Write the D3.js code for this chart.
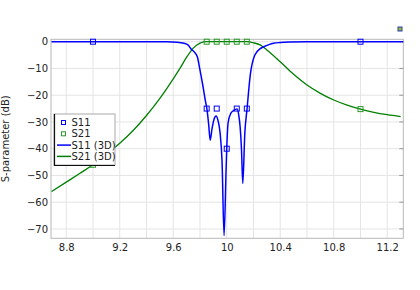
<!DOCTYPE html>
<html lang="en">
<head>
<meta charset="UTF-8" />
<title>S-parameters</title>
<script src="https://d3js.org/d3.v7.min.js"></script>
<style>
    body { margin: 0; background: #fff; }
    text { font-family: "DejaVu Sans", sans-serif; fill: #222; }
</style>
</head>
<body>
<svg width="420" height="290"></svg>
<script>
    // frequency (GHz) and dB values
    const s11Freq = [8.69, 9.0, 9.3, 9.55, 9.63, 9.68, 9.71, 9.735, 9.76, 9.78, 9.8, 9.82, 9.84, 9.852, 9.865, 9.876, 9.89, 9.905, 9.92, 9.935, 9.95, 9.965, 9.98, 9.995, 10.0, 10.01, 10.03, 10.05, 10.077, 10.09, 10.1, 10.11, 10.12, 10.135, 10.152, 10.176, 10.21, 10.25, 10.277, 10.32, 10.35, 10.4, 10.48, 10.6, 11.32];
    const s11dB = [0, 0, 0, -0.05, -0.2, -0.6, -1.2, -2.8, -4, -5.6, -10.6, -16, -22, -25.2, -31, -36.8, -32.5, -29, -27.8, -29.5, -34, -45, -72.5, -48, -40, -30.4, -26.8, -25.8, -25.2, -27.5, -31.8, -40, -53, -34.3, -25, -12.4, -5, -2.6, -1.9, -1, -0.6, -0.3, -0.1, 0, 0];

    const s21Freq = [8.69, 8.8, 8.9, 9.0, 9.1, 9.2, 9.3, 9.4, 9.5, 9.6, 9.65, 9.7, 9.75, 9.8, 9.85, 10.15, 10.2, 10.25, 10.3, 10.4, 10.5, 10.6, 10.7, 10.8, 10.9, 11.0, 11.1, 11.2, 11.3];
    const s21dB = [-56, -52.5, -49.3, -46, -42.2, -38, -33.2, -27.6, -21.2, -13.9, -10, -5.8, -2.4, -0.5, 0, 0, -0.4, -1.2, -3.1, -7.5, -12.2, -16.2, -19.3, -21.8, -23.7, -25.2, -26.4, -27.3, -28];

    // discrete markers
    const markFreq = [9.0, 9.85, 9.925, 10.0, 10.075, 10.15, 11.0];
    const markS11 = [0, -25, -25, -40, -25, -25, 0];
    const markS21 = [-46, 0, 0, 0, 0, 0, -25.2];

    const xGrid = d3.range(8.8, 11.21, 0.2);
    const xTickLabels = [8.8, 9.2, 9.6, 10, 10.4, 10.8, 11.2];
    const yTicks = [0, -10, -20, -30, -40, -50, -60, -70];

    const legendNames = ["S11", "S21", "S11 (3D)", "S21 (3D)"];

    const blue = "#0000ff";
    const green = "#008000";

    const pLeft = 51, pRight = 403.3, pTop = 39.3, pBottom = 238.3;

    const x = d3.scaleLinear().domain([8.686, 11.32]).range([pLeft, pRight]);
    const y = d3.scaleLinear().domain([0.9, -73.5]).range([pTop, pBottom]);

    const svg = d3.select("svg");

    // grid
    svg.append("g")
        .selectAll("line")
        .data(xGrid)
        .enter()
        .append("line")
        .attr("x1", d => x(d)).attr("x2", d => x(d))
        .attr("y1", pTop).attr("y2", pBottom)
        .attr("stroke", "#e4e4e4").attr("stroke-width", 1);

    svg.append("g")
        .selectAll("line")
        .data(yTicks)
        .enter()
        .append("line")
        .attr("x1", pLeft).attr("x2", pRight)
        .attr("y1", d => y(d)).attr("y2", d => y(d))
        .attr("stroke", "#e4e4e4").attr("stroke-width", 1);

    // frame
    svg.append("rect")
        .attr("x", pLeft).attr("y", pTop)
        .attr("width", pRight - pLeft).attr("height", pBottom - pTop)
        .attr("fill", "none").attr("stroke", "#b8b8b8").attr("stroke-width", 1);

    // axes
    const xAxis = d3.axisBottom(x).tickValues(xTickLabels).tickSize(0).tickPadding(6)
        .tickFormat(d3.format("~g"));
    svg.append("g")
        .attr("transform", `translate(0,${pBottom})`)
        .call(xAxis)
        .call(g => g.select(".domain").remove())
        .selectAll("text").attr("font-size", "10px").attr("fill", "#222");

    const yAxis = d3.axisLeft(y).tickValues(yTicks).tickSize(0).tickPadding(3);
    svg.append("g")
        .attr("transform", `translate(${pLeft},0)`)
        .call(yAxis)
        .call(g => g.select(".domain").remove())
        .selectAll("text").attr("font-size", "10px").attr("fill", "#222");

    // small inward ticks on the right edge
    svg.append("g")
        .selectAll("line")
        .data(yTicks)
        .enter()
        .append("line")
        .attr("x1", pRight - 4).attr("x2", pRight)
        .attr("y1", d => y(d)).attr("y2", d => y(d))
        .attr("stroke", "#999");

    svg.append("text")
        .attr("transform", `translate(9,${(pTop + pBottom) / 2}) rotate(-90)`)
        .attr("text-anchor", "middle")
        .attr("font-size", "10px")
        .text("S-parameter (dB)");

    // curves
    const plot = svg.append("g");
    const line = d3.line().x(d => x(d[0])).y(d => y(d[1])).curve(d3.curveMonotoneX);

    plot.append("path")
        .datum(d3.zip(s21Freq, s21dB))
        .attr("d", line)
        .attr("fill", "none").attr("stroke", green).attr("stroke-width", 1.3);

    plot.append("path")
        .datum(d3.zip(s11Freq, s11dB))
        .attr("d", line)
        .attr("fill", "none").attr("stroke", blue).attr("stroke-width", 1.5)
        .attr("stroke-linejoin", "round");

    // markers
    plot.selectAll(".m11")
        .data(d3.zip(markFreq, markS11))
        .enter()
        .append("rect")
        .attr("class", "m11")
        .attr("x", d => x(d[0]) - 2.5).attr("y", d => y(d[1]) - 2.5)
        .attr("width", 5).attr("height", 5)
        .attr("fill", "none").attr("stroke", blue).attr("stroke-width", 1);

    plot.selectAll(".m21")
        .data(d3.zip(markFreq, markS21))
        .enter()
        .append("rect")
        .attr("class", "m21")
        .attr("x", d => x(d[0]) - 2.5).attr("y", d => y(d[1]) - 2.5)
        .attr("width", 5).attr("height", 5)
        .attr("fill", "none").attr("stroke", "#2a9a2a").attr("stroke-width", 1);

    // little icon top right
    svg.append("rect")
        .attr("x", 398).attr("y", 27).attr("width", 4).attr("height", 4)
        .attr("fill", "#9ab93a").attr("stroke", "#2b3fa8").attr("stroke-width", 1);

    // legend
    const lg = svg.append("g").attr("transform", "translate(54,114)");
    lg.append("rect")
        .attr("width", 61).attr("height", 51)
        .attr("fill", "#fff").attr("stroke", "#aaa").attr("stroke-width", 1);
    lg.append("path")
        .attr("d", "M0.5,0 V51.5 H61")
        .attr("fill", "none").attr("stroke", "#111").attr("stroke-width", 1.2);

    const items = lg.selectAll(".item")
        .data(legendNames)
        .enter()
        .append("g")
        .attr("class", "item")
        .attr("transform", (d, i) => `translate(0,${8.5 + i * 11.3})`);

    items.filter((d, i) => i < 2)
        .append("rect")
        .attr("x", 7.5).attr("y", -2)
        .attr("width", 4).attr("height", 4)
        .attr("fill", "none")
        .attr("stroke", (d, i) => i === 0 ? blue : "#2a9a2a");

    items.filter((d, i) => i >= 2)
        .append("line")
        .attr("x1", 3).attr("x2", 17)
        .attr("stroke", (d, i) => i === 0 ? blue : green)
        .attr("stroke-width", 1.5);

    items.append("text")
        .attr("x", 17.5)
        .attr("dy", "0.35em")
        .attr("font-size", "10px")
        .text(d => d);
</script>
</body>
</html>
